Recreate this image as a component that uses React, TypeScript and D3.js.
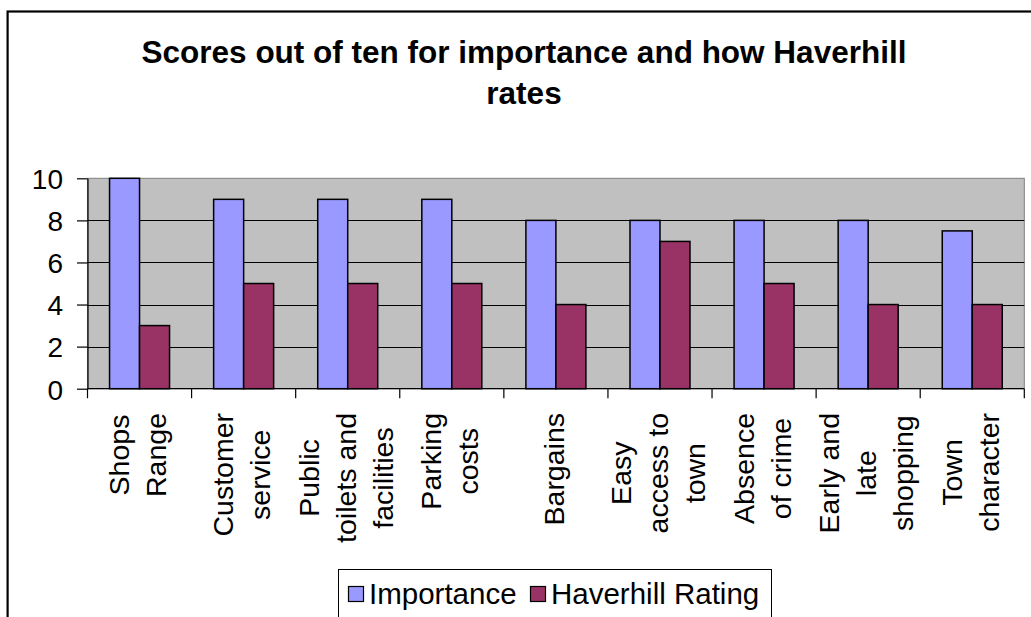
import React, { useEffect, useRef } from "react";
import * as d3 from "d3";

// Chart data
const categories = [
  "Shops Range",
  "Customer service",
  "Public toilets and facilities",
  "Parking costs",
  "Bargains",
  "Easy access to town",
  "Absence of crime",
  "Early and late shopping",
  "Town character",
];
const labelLines = [
  ["Shops", "Range"],
  ["Customer", "service"],
  ["Public", "toilets and", "facilities"],
  ["Parking", "costs"],
  ["Bargains"],
  ["Easy", "access to", "town"],
  ["Absence", "of crime"],
  ["Early and", "late", "shopping"],
  ["Town", "character"],
];
const importance = [10, 9, 9, 9, 8, 8, 8, 8, 7.5];
const haverhillRating = [3, 5, 5, 5, 4, 7, 5, 4, 4];
const seriesNames = ["Importance", "Haverhill Rating"];
const seriesColors = ["#9999FF", "#993366"];
const yTicks = [0, 2, 4, 6, 8, 10];
const titleLines = ["Scores out of ten for importance and how Haverhill", "rates"];

const FONT = "'Liberation Sans', Arial, Helvetica, sans-serif";

export default function App() {
  const ref = useRef<SVGSVGElement>(null);

  useEffect(() => {
    const svg = d3.select(ref.current);
    svg.selectAll("*").remove();

    const left = 87.5;
    const right = 1024.3;
    const top = 178.3;
    const bottom = 388.7;

    // outer chart frame
    svg
      .append("rect")
      .attr("x", 7.6)
      .attr("y", 11.5)
      .attr("width", 1060)
      .attr("height", 660)
      .attr("fill", "#fff")
      .attr("stroke", "#000")
      .attr("stroke-width", 2.2);

    // title
    const title = svg
      .append("text")
      .attr("font-family", FONT)
      .attr("font-weight", "bold")
      .attr("font-size", 31.5)
      .attr("text-anchor", "middle")
      .attr("fill", "#000");
    titleLines.forEach((t, i) => {
      title
        .append("tspan")
        .attr("x", 524)
        .attr("y", 63.3 + i * 41)
        .text(t);
    });

    const x = d3.scaleBand<string>().domain(categories).range([left, right]).padding(0);
    const xs = d3
      .scaleBand<string>()
      .domain(seriesNames)
      .range([0, x.bandwidth()])
      .paddingInner(0)
      .paddingOuter(0.735);
    const y = d3.scaleLinear().domain([0, 10]).range([bottom, top]);

    // plot area
    svg
      .append("rect")
      .attr("x", left)
      .attr("y", top)
      .attr("width", right - left)
      .attr("height", bottom - top)
      .attr("fill", "#C0C0C0")
      .attr("stroke", "#808080")
      .attr("stroke-width", 1);

    // gridlines
    svg
      .append("g")
      .selectAll("line")
      .data(yTicks.filter((v) => v > 0 && v < 10))
      .join("line")
      .attr("x1", left)
      .attr("x2", right)
      .attr("y1", (d) => Math.round(y(d)) + 0.5)
      .attr("y2", (d) => Math.round(y(d)) + 0.5)
      .attr("stroke", "#000")
      .attr("stroke-width", 1);

    // bars
    const series = [importance, haverhillRating];
    const gBars = svg.append("g");
    series.forEach((vals, si) => {
      gBars
        .append("g")
        .selectAll("rect")
        .data(vals.map((v, i) => ({ v, c: categories[i] })))
        .join("rect")
        .attr("x", (d) => (x(d.c) as number) + (xs(seriesNames[si]) as number))
        .attr("y", (d) => y(d.v))
        .attr("width", xs.bandwidth())
        .attr("height", (d) => bottom - y(d.v))
        .attr("fill", seriesColors[si])
        .attr("stroke", "#000")
        .attr("stroke-width", 1.5);
    });

    // y axis
    const yAxis = svg
      .append("g")
      .attr("transform", `translate(${left},0)`)
      .call(d3.axisLeft(y).tickValues(yTicks).tickSize(10.5).tickPadding(14).tickSizeOuter(0));
    yAxis.select(".domain").attr("stroke", "#000").attr("stroke-width", 1.2);
    yAxis.selectAll(".tick line").attr("stroke", "#000").attr("stroke-width", 1.2);
    yAxis
      .selectAll(".tick text")
      .attr("font-family", FONT)
      .attr("font-size", 28)
      .attr("fill", "#000")
      .attr("dy", "0.37em");

    // x axis line and category boundary ticks
    const gx = svg.append("g");
    gx.append("line")
      .attr("x1", left)
      .attr("x2", right)
      .attr("y1", bottom)
      .attr("y2", bottom)
      .attr("stroke", "#000")
      .attr("stroke-width", 1.2);
    const bounds = categories.map((c) => x(c) as number).concat([right]);
    gx.selectAll("line.tick")
      .data(bounds)
      .join("line")
      .attr("class", "tick")
      .attr("x1", (d) => d)
      .attr("x2", (d) => d)
      .attr("y1", bottom)
      .attr("y2", bottom + 9.5)
      .attr("stroke", "#000")
      .attr("stroke-width", 1.2);

    // rotated, wrapped category labels
    const lh = 37;
    const capHalf = 10;
    categories.forEach((c, ci) => {
      const lines = labelLines[ci];
      const cx = (x(c) as number) + x.bandwidth() / 2 - 2;
      const g = gx.append("g");
      const texts = lines.map((line, li) => {
        const bx = cx + (li - (lines.length - 1) / 2) * lh + capHalf;
        return g
          .append("text")
          .attr("font-family", FONT)
          .attr("font-size", 28.5)
          .attr("fill", "#000")
          .attr("text-anchor", "middle")
          .attr("data-x", bx)
          .text(line);
      });
      const maxLen = d3.max(texts, (t) => (t.node() as SVGTextElement).getComputedTextLength()) || 0;
      const cy = 413 + maxLen / 2;
      texts.forEach((t) => {
        t.attr("transform", `translate(${t.attr("data-x")},${cy}) rotate(-90)`);
      });
    });

    // legend
    const lg = svg.append("g");
    lg.append("rect")
      .attr("x", 338.5)
      .attr("y", 569.5)
      .attr("width", 433)
      .attr("height", 70)
      .attr("fill", "#fff")
      .attr("stroke", "#000")
      .attr("stroke-width", 1);
    const legendX = [348, 530];
    seriesNames.forEach((name, i) => {
      lg.append("rect")
        .attr("x", legendX[i] + 0.5)
        .attr("y", 586.5)
        .attr("width", 15)
        .attr("height", 15)
        .attr("fill", seriesColors[i])
        .attr("stroke", "#000")
        .attr("stroke-width", 1.2);
      lg.append("text")
        .attr("x", legendX[i] + 21)
        .attr("y", 604)
        .attr("font-family", FONT)
        .attr("font-size", 29.5)
        .attr("fill", "#000")
        .text(name);
    });
  }, []);

  return (
    <svg
      ref={ref}
      width={1031}
      height={617}
      style={{ position: "absolute", left: 0, top: 0, background: "#fff" }}
    />
  );
}
